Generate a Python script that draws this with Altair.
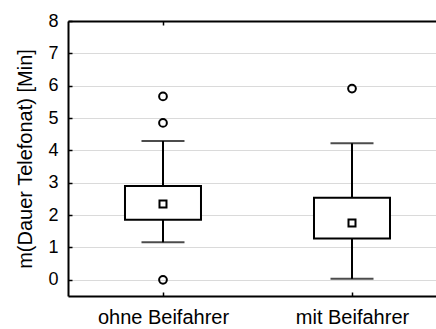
import altair as alt
import pandas as pd

# Box-plot summary per group (minutes)
categories = ["ohne Beifahrer", "mit Beifahrer"]
whisker_low = [1.16, 0.03]
box_q1 = [1.86, 1.28]
box_q3 = [2.90, 2.54]
whisker_high = [4.29, 4.22]
means = [2.34, 1.76]

# Values outside the whiskers
outlier_group = ["ohne Beifahrer", "ohne Beifahrer", "ohne Beifahrer", "mit Beifahrer"]
outlier_value = [5.67, 4.85, 0.0, 5.91]

y_ticks = [0, 1, 2, 3, 4, 5, 6, 7, 8]

summary = pd.DataFrame({
    "group": categories,
    "lo": whisker_low,
    "q1": box_q1,
    "q3": box_q3,
    "hi": whisker_high,
    "mean": means,
})
caps = pd.DataFrame({
    "group": categories + categories,
    "value": whisker_low + whisker_high,
})
outliers = pd.DataFrame({"group": outlier_group, "value": outlier_value})

FONT = "Liberation Sans"
BLACK = "#000000"
W, H = 368, 275

x_scale = alt.Scale(type="point", padding=0.4735, align=0.5307)
y_scale = alt.Scale(domain=[-0.5, 8], nice=False, zero=False)

# Left axis: labels, title, frame line and horizontal grid
y_axis = alt.Axis(
    values=y_ticks,
    labelOverlap=False,
    ticks=False,
    labelPadding=10,
    labelFont=FONT,
    labelFontSize=18,
    labelColor=BLACK,
    domainColor=BLACK,
    domainWidth=2,
    gridColor="#dadada",
    gridWidth=1,
    title="m(Dauer Telefonat) [Min]",
    titleFont=FONT,
    titleFontSize=20,
    titleFontWeight="normal",
    titleColor=BLACK,
    titlePadding=12,
)

# Short inward ticks along the left frame line
y_inner_ticks = alt.Axis(
    orient="right",
    offset=-W,
    values=y_ticks,
    labels=False,
    domain=False,
    grid=False,
    title=None,
    ticks=True,
    tickSize=4,
    tickWidth=1.5,
    tickColor=BLACK,
)

bottom_axis = alt.Axis(
    orient="bottom",
    title=None,
    ticks=False,
    grid=False,
    labelAngle=0,
    labelPadding=11,
    labelFont=FONT,
    labelFontSize=20,
    labelColor=BLACK,
    domainColor=BLACK,
    domainWidth=2,
)

# Inward ticks on the bottom frame line
bottom_inner_ticks = alt.Axis(
    orient="top",
    offset=-H,
    title=None,
    labels=False,
    domain=False,
    grid=False,
    ticks=True,
    tickSize=4,
    tickWidth=1.5,
    tickColor=BLACK,
)

# Top frame line
top_axis = alt.Axis(
    orient="top",
    title=None,
    ticks=False,
    grid=False,
    labels=False,
    domainColor=BLACK,
    domainWidth=2,
)

# Inward tick on the top frame line
top_inner_ticks = alt.Axis(
    orient="bottom",
    offset=-H,
    values=[categories[0]],
    title=None,
    labels=False,
    domain=False,
    grid=False,
    ticks=True,
    tickSize=4,
    tickWidth=1.5,
    tickColor=BLACK,
)

base = alt.Chart(summary)

whiskers = base.mark_rule(color=BLACK, strokeWidth=2).encode(
    x=alt.X("group:N", scale=x_scale, sort=categories, axis=bottom_axis),
    y=alt.Y("lo:Q", scale=y_scale, axis=y_axis),
    y2="hi:Q",
)

boxes = base.mark_bar(size=76, fill="white", stroke=BLACK, strokeWidth=2).encode(
    x=alt.X("group:N", scale=x_scale, sort=categories, axis=bottom_inner_ticks),
    y=alt.Y("q1:Q", scale=y_scale, axis=None),
    y2="q3:Q",
)

cap_marks = alt.Chart(caps).mark_tick(size=43, thickness=2, color=BLACK).encode(
    x=alt.X("group:N", scale=x_scale, sort=categories, axis=top_inner_ticks),
    y=alt.Y("value:Q", scale=y_scale, axis=None),
)

mean_marks = base.mark_point(
    shape="square", size=49, filled=False, stroke=BLACK, strokeWidth=2, opacity=1
).encode(
    x=alt.X("group:N", scale=x_scale, sort=categories, axis=None),
    y=alt.Y("mean:Q", scale=y_scale, axis=y_inner_ticks),
)

outlier_marks = alt.Chart(outliers).mark_point(
    shape="circle", size=60, filled=False, stroke=BLACK, strokeWidth=2, opacity=1
).encode(
    x=alt.X("group:N", scale=x_scale, sort=categories, axis=top_axis),
    y=alt.Y("value:Q", scale=y_scale, axis=None),
)

chart = (
    alt.layer(whiskers, boxes, cap_marks, mean_marks, outlier_marks)
    .resolve_axis(x="independent", y="independent")
    .properties(
        width=W,
        height=H,
        autosize=alt.AutoSizeParams(type="none"),
        padding={"left": 68, "top": 21, "right": 0, "bottom": 33},
        background="white",
    )
    .configure_view(stroke=None)
)

chart.save("out.html", embed_options={"renderer": "svg", "actions": False})
